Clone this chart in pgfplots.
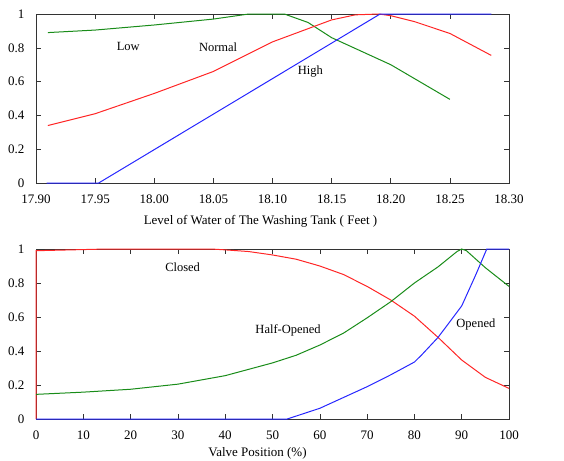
\documentclass[border=0pt]{standalone}
\usepackage{fontspec}
\setmainfont{Liberation Serif}
\usepackage{pgfplots}
\pgfplotsset{compat=1.18}

\definecolor{mred}{rgb}{1,0.15,0.15}
\definecolor{mgreen}{rgb}{0.1,0.55,0.1}
\definecolor{mblue}{rgb}{0.15,0.15,1}

\pgfplotsset{
  memb/.style={
    scale only axis,
    width=473pt,
    ymin=0, ymax=1,
    ytick={0,0.2,0.4,0.6,0.8,1},
    yticklabels={0,0.2,0.4,0.6,0.8,1},
    tick align=inside,
    major tick length=5pt,
    axis line style={black!80, line width=0.8pt},
    tick style={black!80, line width=0.6pt},
    tick label style={font=\fontsize{13}{15}\selectfont},
    label style={font=\fontsize{13}{15}\selectfont},
    /pgf/number format/assume math mode=true,
    yticklabel style={xshift=-8pt},
    xticklabel style={yshift=-8pt},
    clip=false,
    every axis plot/.append style={line width=1pt},
  }
}

\begin{document}
\begin{tikzpicture}
\path[use as bounding box] (0,0) rectangle (564pt,-460pt);

% water level
\begin{axis}[
  memb,
  height=169pt,
  at={(36pt,-183pt)}, anchor=south west,
  xmin=17.90, xmax=18.30,
  xtick={17.90,17.95,18.00,18.05,18.10,18.15,18.20,18.25,18.30},
  xticklabels={17.90,17.95,18.00,18.05,18.10,18.15,18.20,18.25,18.30},
  xlabel={Level of Water of The Washing Tank ( Feet )},
  xlabel style={xshift=-12pt, yshift=-5pt},
  ]
  % Low
  \addplot[mgreen] coordinates {
    (17.91,0.89) (17.95,0.905) (18.00,0.935) (18.05,0.97) (18.08,1.0)
    (18.11,1.0) (18.13,0.95) (18.15,0.86) (18.20,0.70) (18.25,0.495)
  };
  % Normal
  \addplot[mred] coordinates {
    (17.91,0.34) (17.95,0.41) (18.00,0.53) (18.05,0.66) (18.10,0.835)
    (18.15,0.965) (18.17,0.995) (18.19,1.0) (18.20,0.99) (18.22,0.955)
    (18.25,0.885) (18.285,0.755)
  };
  % High
  \addplot[mblue] coordinates {
    (17.909,0) (17.953,0) (18.191,1.0) (18.285,1.0)
  };
  \node[font=\fontsize{12.5}{14}\selectfont] at (axis cs:17.978,0.805) {Low};
  \node[font=\fontsize{12.5}{14}\selectfont] at (axis cs:18.054,0.805) {Normal};
  \node[font=\fontsize{12.5}{14}\selectfont] at (axis cs:18.132,0.657) {High};
\end{axis}

% valve position
\begin{axis}[
  memb,
  height=170pt,
  at={(36pt,-419pt)}, anchor=south west,
  xmin=0, xmax=100,
  xtick={0,10,...,100},
  xlabel={Valve Position (\%)},
  xlabel style={xshift=-15pt, yshift=-1.5pt},
  ]
  % Closed
  \addplot[mred] coordinates {
    (0,0) (0,0.99) (15,1.0) (37,1.0) (40,0.995) (45,0.985) (50,0.965)
    (55,0.94) (60,0.90) (65,0.85) (70,0.78) (75,0.70) (80,0.605)
    (85,0.48) (90,0.347) (95,0.245) (100,0.18)
  };
  % Half-Opened
  \addplot[mgreen] coordinates {
    (0,0.145) (10,0.158) (20,0.175) (30,0.205) (40,0.255) (50,0.33)
    (55,0.375) (60,0.435) (65,0.505) (70,0.595) (75,0.69) (80,0.80)
    (85,0.895) (89,0.985) (90,1.0) (91,0.99) (95,0.89) (100,0.78)
  };
  % Opened
  \addplot[mblue] coordinates {
    (0,0) (53.1,0) (60,0.063) (70,0.19) (75,0.26) (80,0.335) (81.5,0.376)
    (85,0.48) (90,0.665) (93,0.85) (95.3,1.0) (100,1.0)
  };
  \node[font=\fontsize{12.5}{14}\selectfont] at (axis cs:31,0.89) {Closed};
  \node[font=\fontsize{12.5}{14}\selectfont] at (axis cs:53.3,0.52) {Half-Opened};
  \node[font=\fontsize{12.5}{14}\selectfont] at (axis cs:93,0.557) {Opened};
\end{axis}
\end{tikzpicture}
\end{document}
